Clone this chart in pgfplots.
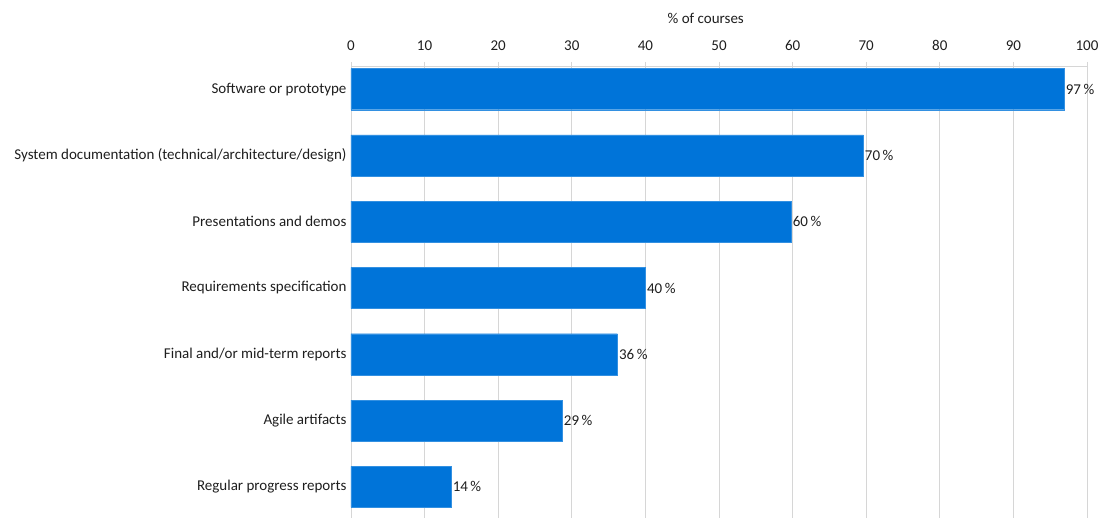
\documentclass[border=0pt]{standalone}
\usepackage{pgfplots}
\pgfplotsset{compat=1.18}
\usepackage{fontspec}
\setmainfont{Carlito}
\definecolor{barblue}{RGB}{0,116,217}
\definecolor{txt}{RGB}{30,30,30}
\definecolor{gridc}{RGB}{214,214,214}
\begin{document}
\begin{tikzpicture}[x=1pt,y=1pt]
\begin{axis}[
  at={(0pt,0pt)}, anchor=south west,
  scale only axis, width=736pt, height=452pt,
  xbar, bar width=0.62,
  xmin=0, xmax=100, ymin=-0.47, ymax=6.35,
  axis x line*=top, axis y line*=left,
  axis line style={gridc, line width=0.8pt},
  xtick={0,10,...,100},
  xmajorgrids, grid style={gridc, line width=0.8pt},
  tick style={gridc, line width=0.8pt},
  xtick align=outside, major tick length=4pt,
  ytick={0,...,6},
  yticklabels={Regular progress reports, Agile artifacts, Final and/or mid-term reports, Requirements specification, Presentations and demos, System documentation (technical/architecture/design), Software or prototype},
  ytick style={draw=none},
  minor ytick={0.5,1.5,...,5.5},
  minor tick style={gridc, line width=0.8pt},
  minor tick length=4pt, ytick align=outside,
  tick label style={font=\fontsize{15}{17}\selectfont, text=txt},
  /pgf/number format/assume math mode=true,
  xlabel={\% of courses},
  xlabel style={font=\fontsize{15}{17}\selectfont, text=txt, at={(axis description cs:0.482,1)}, anchor=center, yshift=48pt},
  xticklabel style={yshift=8pt},
  yticklabel style={xshift=3pt},
  nodes near coords={\pgfmathprintnumber[fixed,precision=0]{\pgfplotspointmeta}\,\%},
  point meta=x,
  every node near coord/.append style={font=\fontsize{15}{17}\selectfont, text=txt, inner sep=1.5pt, anchor=west},
  clip=false,
]
\addplot[fill=barblue, draw=barblue!80!white, line width=0.4pt] coordinates {
  (13.6,0) (28.7,1) (36.2,2) (40,3) (59.8,4) (69.6,5) (96.9,6)
};
\end{axis}
\pgfresetboundingbox
\path (-351pt,0pt) rectangle (748pt,518pt);
\end{tikzpicture}
\end{document}
